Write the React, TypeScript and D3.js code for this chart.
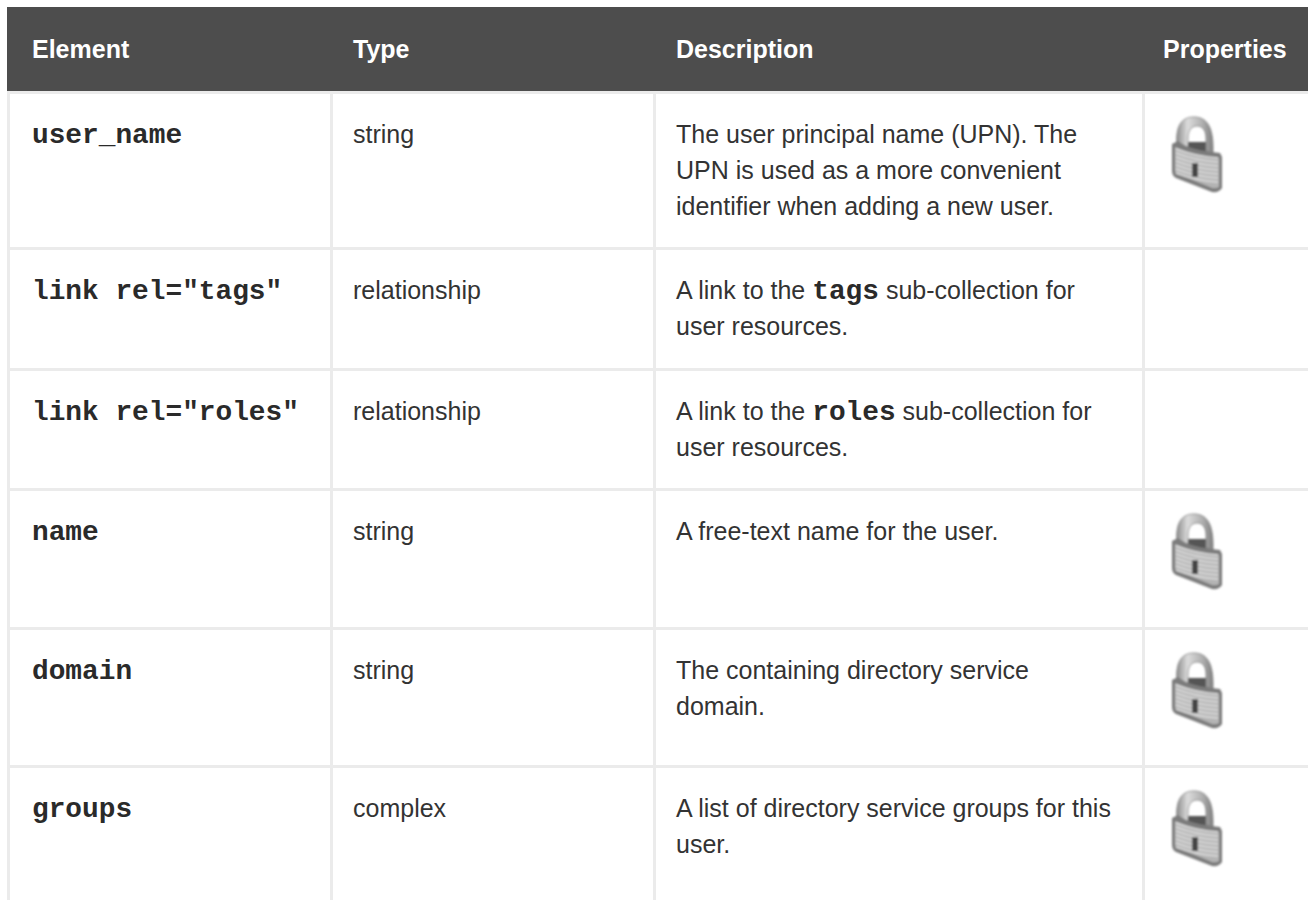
import * as d3 from 'd3'

const columns = ['Element', 'Type', 'Description', 'Properties']
const elements = ['user_name', 'link rel="tags"', 'link rel="roles"', 'name', 'domain', 'groups']
const types = ['string', 'relationship', 'relationship', 'string', 'string', 'complex']
// *word* marks a bold monospace run
const descriptions = [
  ['The user principal name (UPN). The', 'UPN is used as a more convenient', 'identifier when adding a new user.'],
  ['A link to the *tags* sub-collection for', 'user resources.'],
  ['A link to the *roles* sub-collection for', 'user resources.'],
  ['A free-text name for the user.'],
  ['The containing directory service', 'domain.'],
  ['A list of directory service groups for this', 'user.'],
]
const locked = [true, false, false, true, true, true]

const W = 1308
const H = 900
const LINE = '#ebebeb'
const BORDER = 3
const LINE_HEIGHT = 36
const LOCK_HEIGHT = 90
const ROW_PAD = 48.4
const HEADER_TOP = 7
const TABLE_TOP = 94

const cellLeft = d3.scaleOrdinal<string, number>().domain(columns).range([10, 333, 656, 1145])
const textPad = d3.scaleOrdinal<string, number>().domain(columns).range([22, 20, 20, 18])

const rowPitch = descriptions.map((d, i) => Math.max(d.length * LINE_HEIGHT, locked[i] ? LOCK_HEIGHT : 0) + ROW_PAD)
const rowTop = [0, ...d3.cumsum(rowPitch)].map((d) => Math.round(TABLE_TOP + d))

const sans = '"Liberation Sans", Arial, sans-serif'
const mono = '"Liberation Mono", monospace'

const textX = (c: string) => cellLeft(c) + textPad(c)

function Lock({ x, y }: { x: number; y: number }) {
  const stripes = [32, 36, 40, 44, 48, 52, 56]
  return (
    <g transform={`translate(${x},${y})`} filter="url(#soft)">
      {/* dark inside, under the opening */}
      <path d="M13,25 L38,25 L42,38 L12,32 Z" fill="#555" />
      {/* shackle */}
      <path d="M5,30 C3,8 10,0 22,0 C35,0 42,10 41,36 L34,34 L34,21 C34,13 30,9 25,9 C20,9 16,13 16,21 L16,30 Z" fill="url(#shackle)" stroke="#7d7d7d" strokeWidth={0.8} />
      {/* body */}
      <path d="M0,27 L6,24 Q10,27 14,29 Q25,34 48,36 L50,40 L50,71 Q47,76 40,75 L4,61 Q0,59 0,54 Z" fill="#7b7b7b" />
      <path d="M3,30 Q25,40 47,41 L47,70 Q44,72 40,71 L6,57 Q3,56 3,54 Z" fill="#b4b4b4" />
      {stripes.map((s) => (
        <path key={s} d={`M4,${s} Q25,${s + 8} 46,${s + 9}`} fill="none" stroke="#dedede" strokeWidth={1.6} />
      ))}
      <rect x={20} y={46} width={6} height={14} fill="#454545" />
    </g>
  )
}

function Description({ line, x, y }: { line: string; x: number; y: number }) {
  const parts = line.split('*')
  return (
    <text x={x} y={y} fontFamily={sans} fontSize={25} fill="#333">
      {parts.map((p, i) =>
        i % 2 ? (
          <tspan key={i} fontFamily={mono} fontWeight="bold" fontSize={27.8} fill="#2a2a2a">{p}</tspan>
        ) : (
          <tspan key={i}>{p}</tspan>
        ),
      )}
    </text>
  )
}

export default function App() {
  return (
    <svg width={W} height={H} viewBox={`0 0 ${W} ${H}`} style={{ position: 'absolute', left: 0, top: 0, display: 'block', background: '#fff' }}>
      <defs>
        <filter id="soft" x="-10%" y="-10%" width="120%" height="120%">
          <feGaussianBlur stdDeviation={0.8} />
        </filter>
        <linearGradient id="shackle" x1="0" x2="1" y1="0" y2="0">
          <stop offset="0" stopColor="#8c8c8c" />
          <stop offset="0.3" stopColor="#dcdcdc" />
          <stop offset="0.7" stopColor="#b0b0b0" />
          <stop offset="1" stopColor="#7f7f7f" />
        </linearGradient>
      </defs>

      {/* grid */}
      <rect x={7} y={TABLE_TOP - BORDER} width={BORDER} height={H} fill={LINE} />
      {columns.slice(1).map((c) => (
        <rect key={c} x={cellLeft(c) - BORDER} y={TABLE_TOP - BORDER} width={BORDER} height={H} fill={LINE} />
      ))}
      {rowTop.map((y) => (
        <rect key={y} x={7} y={y - BORDER} width={W - 7} height={BORDER} fill={LINE} />
      ))}

      {/* header */}
      <rect x={7} y={HEADER_TOP} width={W - 7} height={TABLE_TOP - BORDER - HEADER_TOP} fill="#4d4d4d" />
      {columns.map((c) => (
        <text key={c} x={textX(c)} y={58} fontFamily={sans} fontWeight="bold" fontSize={25} fill="#fff">{c}</text>
      ))}

      {/* rows */}
      {elements.map((el, i) => (
        <g key={el}>
          <text x={textX('Element')} y={rowTop[i] + 49} fontFamily={mono} fontWeight="bold" fontSize={27.8} fill="#2a2a2a" xmlSpace="preserve">{el}</text>
          <text x={textX('Type')} y={rowTop[i] + 49} fontFamily={sans} fontSize={25} fill="#333">{types[i]}</text>
          {descriptions[i].map((line, j) => (
            <Description key={j} line={line} x={textX('Description')} y={rowTop[i] + 49 + j * LINE_HEIGHT} />
          ))}
          {locked[i] && <Lock x={1172} y={rowTop[i] + 23} />}
        </g>
      ))}
    </svg>
  )
}
